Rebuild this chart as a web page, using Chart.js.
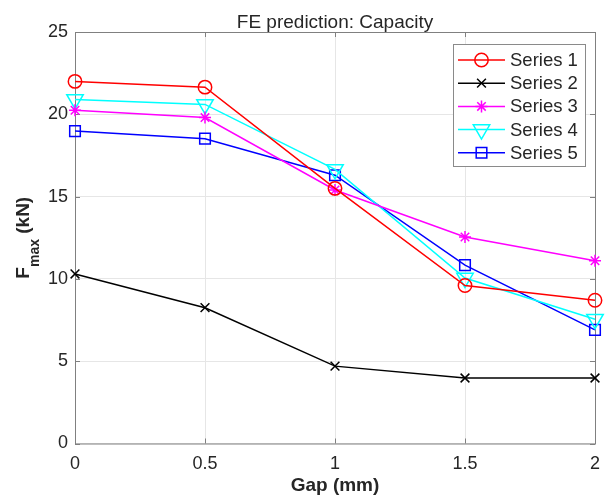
<!DOCTYPE html>
<html>
<head>
<meta charset="utf-8">
<script src="https://cdn.jsdelivr.net/npm/chart.js@4.4.1/dist/chart.umd.min.js"></script>
<style>
  html, body { margin: 0; padding: 0; background: #fff; }
  #wrap { width: 606px; height: 495px; }
</style>
</head>
<body>
<div id="wrap"><canvas id="capChart"></canvas></div>
<script>
// data
const gaps = [0, 0.5, 1, 1.5, 2];
const xTicks = [0, 0.5, 1, 1.5, 2];
const yTicks = [0, 5, 10, 15, 20, 25];
const seriesNames = ['Series 1', 'Series 2', 'Series 3', 'Series 4', 'Series 5'];
const series1 = [22.0, 21.65, 15.5, 9.6, 8.7];
const series2 = [10.3, 8.25, 4.7, 3.98, 3.98];
const series3 = [20.25, 19.8, 15.4, 12.55, 11.1];
const series4 = [20.9, 20.6, 16.65, 10.05, 7.55];
const series5 = [18.98, 18.52, 16.3, 10.84, 6.9];

const FONT = "'Liberation Sans', Arial, Helvetica, sans-serif";
const TXT = '#262626';
const AXIS = '#808080';

function toPoints(vals) {
  return vals.map((v, i) => ({ x: gaps[i], y: v }));
}

function makeSet(label, vals, color, style, radius, rot) {
  return {
    label: label,
    data: toPoints(vals),
    borderColor: color,
    backgroundColor: color,
    borderWidth: 1.5,
    pointStyle: style,
    pointRadius: radius,
    pointHoverRadius: radius,
    pointRotation: rot || 0,
    pointBorderColor: color,
    pointBackgroundColor: 'rgba(0,0,0,0)',
    pointBorderWidth: 1.5,
    tension: 0,
    clip: false,
  };
}

const datasets = [
  makeSet(seriesNames[0], series1, '#ff0000', 'circle', 6.7),
  makeSet(seriesNames[1], series2, '#000000', 'crossRot', 6.2),
  makeSet(seriesNames[2], series3, '#ff00ff', 'star', 6),
  makeSet(seriesNames[3], series4, '#00ffff', 'triangle', 9.5, 180),
  makeSet(seriesNames[4], series5, '#0000ff', 'rect', 7.5),
];

// box, inside ticks, title, y label with subscript, legend
const matlabFrame = {
  id: 'matlabFrame',
  beforeDatasetsDraw(chart) {
    const { ctx, chartArea: a, scales } = chart;
    ctx.save();
    ctx.strokeStyle = AXIS;
    ctx.lineWidth = 1;
    ctx.strokeRect(a.left + 0.5, a.top + 0.5, a.right - a.left, a.bottom - a.top);
    ctx.beginPath();
    xTicks.forEach((t) => {
      const px = Math.round(scales.x.getPixelForValue(t)) + 0.5;
      ctx.moveTo(px, a.bottom); ctx.lineTo(px, a.bottom - 5);
      ctx.moveTo(px, a.top); ctx.lineTo(px, a.top + 5);
    });
    yTicks.forEach((t) => {
      const py = Math.round(scales.y.getPixelForValue(t)) + 0.5;
      ctx.moveTo(a.left, py); ctx.lineTo(a.left + 5, py);
      ctx.moveTo(a.right, py); ctx.lineTo(a.right - 5, py);
    });
    ctx.stroke();
    ctx.restore();
  },
  afterDraw(chart) {
    const { ctx, chartArea: a } = chart;
    ctx.save();

    // title
    ctx.fillStyle = TXT;
    ctx.font = '19px ' + FONT;
    ctx.textAlign = 'center';
    ctx.textBaseline = 'alphabetic';
    ctx.fillText('FE prediction: Capacity', (a.left + a.right) / 2, 28);

    // y axis title: F_max (kN)
    ctx.translate(29, (a.top + a.bottom) / 2);
    ctx.rotate(-Math.PI / 2);
    const big = 'bold 19px ' + FONT;
    const small = 'bold 14px ' + FONT;
    ctx.font = big; const wF = ctx.measureText('F').width;
    ctx.font = small; const wSub = ctx.measureText('max').width;
    ctx.font = big; const wUnit = ctx.measureText(' (kN)').width;
    const x0 = -(wF + wSub + wUnit) / 2;
    ctx.textAlign = 'left';
    ctx.font = big; ctx.fillText('F', x0, 0);
    ctx.font = small; ctx.fillText('max', x0 + wF, 10);
    ctx.font = big; ctx.fillText(' (kN)', x0 + wF + wSub, 0);
    ctx.setTransform(1, 0, 0, 1, 0, 0);

    // legend
    const lx = 453, ly = 44, lw = 132, lh = 122;
    ctx.fillStyle = '#fff';
    ctx.fillRect(lx, ly, lw, lh);
    ctx.strokeStyle = '#8a8a8a';
    ctx.lineWidth = 1;
    ctx.strokeRect(lx + 0.5, ly + 0.5, lw, lh);
    chart.data.datasets.forEach((ds, i) => {
      const yy = ly + 16 + i * 23.2;
      ctx.strokeStyle = ds.borderColor;
      ctx.lineWidth = 1.5;
      ctx.beginPath();
      ctx.moveTo(lx + 5, yy); ctx.lineTo(lx + 52, yy);
      ctx.stroke();
      ctx.fillStyle = 'rgba(0,0,0,0)';
      Chart.helpers.drawPoint(ctx, {
        pointStyle: ds.pointStyle,
        radius: ds.pointRadius,
        rotation: ds.pointRotation,
        borderWidth: 1.5,
      }, lx + 28.5, yy);
      ctx.fillStyle = TXT;
      ctx.font = '18.5px ' + FONT;
      ctx.textAlign = 'left';
      ctx.textBaseline = 'middle';
      ctx.fillText(ds.label, lx + 57, yy + 1);
    });
    ctx.restore();
  },
};

new Chart(document.getElementById('capChart'), {
  type: 'line',
  data: { datasets: datasets },
  options: {
    responsive: true,
    maintainAspectRatio: false,
    animation: false,
    layout: { padding: { top: 32, right: 9, left: 0, bottom: 0 } },
    plugins: {
      legend: { display: false },
      title: { display: false },
      tooltip: { enabled: false },
    },
    scales: {
      x: {
        type: 'linear',
        min: 0,
        max: 2,
        afterBuildTicks: (s) => { s.ticks = xTicks.map((v) => ({ value: v })); },
        afterFit: (s) => { s.height = 51.5; s.paddingLeft = 0; s.paddingRight = 0; },
        ticks: {
          color: TXT,
          font: { family: FONT, size: 18 },
          padding: 10,
          maxRotation: 0,
          callback: (v) => String(v),
        },
        grid: { color: '#e6e6e6', drawTicks: false },
        border: { display: false },
        title: {
          display: true,
          text: 'Gap (mm)',
          color: TXT,
          font: { family: FONT, size: 19, weight: 'bold' },
          padding: { top: 0, bottom: -2 },
        },
      },
      y: {
        type: 'linear',
        min: 0,
        max: 25,
        afterBuildTicks: (s) => { s.ticks = yTicks.map((v) => ({ value: v })); },
        afterFit: (s) => { s.width = 75; },
        ticks: {
          color: TXT,
          font: { family: FONT, size: 18 },
          padding: 7,
        },
        grid: { color: '#e6e6e6', drawTicks: false },
        border: { display: false },
      },
    },
  },
  plugins: [matlabFrame],
});
</script>
</body>
</html>
